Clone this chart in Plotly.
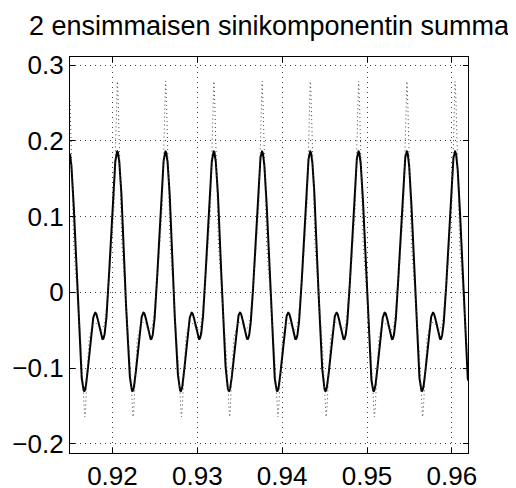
import numpy as np
import plotly.graph_objects as go

# ---- data ----
title_text = "2 ensimmaisen sinikomponentin summa"
x_tick_vals = [0.92, 0.93, 0.94, 0.95, 0.96]
x_tick_text = ["0.92", "0.93", "0.94", "0.95", "0.96"]
y_tick_vals = [-0.2, -0.1, 0.0, 0.1, 0.2, 0.3]
y_tick_text = ["\u22120.2", "\u22120.1", "0", "0.1", "0.2", "0.3"]
x_range = [0.915, 0.9619]
y_range = [-0.212, 0.3106]

period = 0.0056856          # seconds between peaks
t_peak = 0.920575           # time of first peak

# first two sine components (cos / sin coefficients relative to the peak)
comp_k = [1, 2]
comp_cos = [0.11005, 0.07588]
comp_sin = [-0.0270, 0.0135]

# higher components present only in the original (dotted) signal
high_k = [3, 4, 5, 6, 7, 8, 9, 10]
high_cos = [0.0122, 0.0238, 0.0229, 0.0070, 0.0107, 0.0101, 0.0027, 0.0032]
high_sin = [0.0019, -0.0098, 0.0060, 0.0020, -0.0049, 0.0021, 0.0011, -0.0016]

# ---- build curves ----
t = np.linspace(x_range[0], x_range[1], 3000)
theta = 2 * np.pi * (t - t_peak) / period

def harmonic_sum(ks, cs, ss):
    y = np.zeros_like(theta)
    for k, c, s in zip(ks, cs, ss):
        y += c * np.cos(k * theta) + s * np.sin(k * theta)
    return y

y_sum2 = harmonic_sum(comp_k, comp_cos, comp_sin)
y_orig = y_sum2 + harmonic_sum(high_k, high_cos, high_sin)

fig = go.Figure()
fig.add_trace(go.Scatter(x=t, y=y_sum2, mode="lines",
                         line=dict(color="black", width=2), hoverinfo="skip"))
fig.add_trace(go.Scatter(x=t, y=y_orig, mode="lines",
                         line=dict(color="#444444", width=1, dash="1px,3px"),
                         hoverinfo="skip"))

font_family = "Liberation Sans, Arial, Helvetica, sans-serif"
axis_common = dict(
    showline=True, linecolor="black", linewidth=1.3, mirror="ticks",
    ticks="inside", ticklen=5, tickwidth=1, tickcolor="black",
    showgrid=True, gridcolor="#444444", gridwidth=1, griddash="1px,4px",
    zeroline=False, automargin=False,
    tickfont=dict(family=font_family, size=26, color="black"),
)

fig.update_layout(
    width=516, height=488,
    margin=dict(l=62, r=56, t=49, b=43, autoexpand=False),
    paper_bgcolor="white", plot_bgcolor="white",
    showlegend=False,
    title=dict(text=title_text, x=0.5, xref="paper", xanchor="center",
               y=1 - 18 / 488, yanchor="middle",
               font=dict(family=font_family, size=27, color="black")),
    xaxis=dict(range=x_range, tickvals=x_tick_vals, ticktext=x_tick_text,
               ticklabelstandoff=0, **axis_common),
    yaxis=dict(range=y_range, tickvals=y_tick_vals, ticktext=y_tick_text, **axis_common),
)

fig.write_html("out.html")
